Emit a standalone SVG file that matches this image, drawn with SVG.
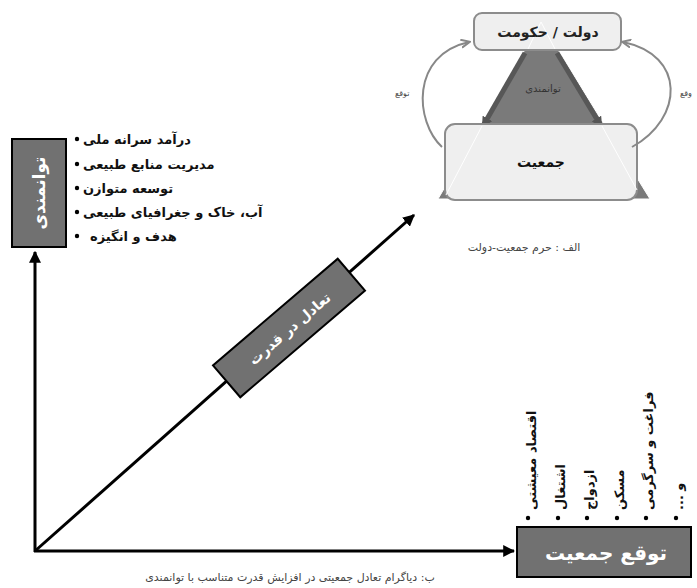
<svg xmlns="http://www.w3.org/2000/svg" width="697" height="588" viewBox="0 0 697 588">
<style>
.fa{font-family:"DejaVu Sans","Noto Sans",sans-serif;direction:rtl}
.axis{stroke:#000;stroke-width:3;fill:none}
.dbox{fill:#717171;stroke:#000;stroke-width:2}
.wt{fill:#fff;font-weight:bold}
.item{fill:#111;font-weight:bold;font-size:13px}
.lbox{fill:#efefef;stroke:#8c8c8c;stroke-width:2}
.cap{fill:#444;font-size:11px}
.bul{fill:#000}
</style>
<defs>
<marker id="ah" viewBox="0 0 10 10" refX="9" refY="5" markerWidth="4" markerHeight="4" orient="auto" markerUnits="strokeWidth"><path d="M0,0L10,5L0,10z" fill="#000"/></marker>
<marker id="gh" viewBox="0 0 10 10" refX="8" refY="5" markerWidth="5" markerHeight="5" orient="auto" markerUnits="strokeWidth"><path d="M0,1L9,5L0,9" fill="none" stroke="#888" stroke-width="2"/></marker>
<marker id="dh" viewBox="0 0 10 10" refX="8" refY="5" markerWidth="2.2" markerHeight="2.2" orient="auto" markerUnits="strokeWidth"><path d="M0,0L10,5L0,10z" fill="#555"/></marker>
</defs>

<!-- top-right diagram -->
<g id="triangle">
<polygon points="541,22 438,199 650,199" fill="#7a7a7a" stroke="#fff" stroke-width="1"/>
<line x1="525" y1="53" x2="483" y2="126" stroke="#575757" stroke-width="5" marker-end="url(#dh)"/>
<line x1="557" y1="53" x2="601" y2="126" stroke="#575757" stroke-width="5" marker-end="url(#dh)"/>
<text class="fa" x="543" y="92" text-anchor="middle" font-size="10" fill="#333">توانمندی</text>
</g>
<g id="dolat">
<rect class="lbox" x="474" y="13" width="147" height="37" rx="8" fill="#f3f3f3"/>
<line x1="541" y1="22" x2="528" y2="49" stroke="#fff" stroke-width="1"/>
<line x1="541" y1="22" x2="555" y2="49" stroke="#fff" stroke-width="1"/>
<text class="fa" x="548" y="37" text-anchor="middle" font-size="14" font-weight="bold" fill="#222">دولت / حکومت</text>
</g>
<g id="jamiat">
<rect class="lbox" x="445" y="124" width="192" height="76" rx="10"/>
<line x1="482" y1="126" x2="446" y2="195" stroke="#fff" stroke-width="1"/>
<line x1="602" y1="126" x2="637" y2="190" stroke="#fff" stroke-width="1"/>
<text class="fa" x="541" y="167" text-anchor="middle" font-size="14" font-weight="bold" fill="#111">جمعیت</text>
</g>
<g id="top-connectors">
<path d="M442,147 C415,122 410,55 469,42" fill="none" stroke="#888" stroke-width="2" marker-end="url(#gh)"/>
<path d="M632,147 C684,118 686,55 623,42" fill="none" stroke="#888" stroke-width="2" marker-end="url(#gh)"/>
<text class="fa" x="395" y="96" text-anchor="end" font-size="8" fill="#444">توقع</text>
<text class="fa" x="680" y="96" text-anchor="end" font-size="8" fill="#444">وقع</text>
</g>
<text class="fa cap" x="524" y="251" text-anchor="middle">الف : حرم جمعیت-دولت</text>

<!-- main diagram connectors -->
<g id="connectors">
<line class="axis" x1="35" y1="552" x2="35" y2="252" marker-end="url(#ah)"/>
<line class="axis" x1="34" y1="551" x2="514" y2="551" marker-end="url(#ah)"/>
<line class="axis" x1="35" y1="551" x2="414" y2="215" marker-end="url(#ah)"/>
</g>

<g id="tavanmandi">
<rect class="dbox" x="12" y="139" width="54" height="108"/>
<text class="fa wt" transform="translate(45,193) rotate(-90)" text-anchor="middle" font-size="17">توانمندی</text>
</g>
<g id="items">
<circle class="bul" cx="77" cy="139" r="2.2"/>
<text class="fa item" x="83" y="144" text-anchor="end">درآمد سرانه ملی</text>
<circle class="bul" cx="77" cy="164" r="2.2"/>
<text class="fa item" x="83" y="169" text-anchor="end">مدیریت منابع طبیعی</text>
<circle class="bul" cx="77" cy="188" r="2.2"/>
<text class="fa item" x="83" y="193" text-anchor="end">توسعه متوازن</text>
<circle class="bul" cx="77" cy="212" r="2.2"/>
<text class="fa item" x="83" y="217" text-anchor="end">آب، خاک و جغرافیای طبیعی</text>
<circle class="bul" cx="77" cy="236" r="2.2"/>
<text class="fa item" x="90" y="241" text-anchor="end">هدف و انگیزه</text>
</g>

<g id="taadol">
<g transform="translate(289,328) rotate(-40.5)">
<rect class="dbox" x="-82" y="-21" width="164" height="42"/>
<text class="fa wt" x="0" y="6" text-anchor="middle" font-size="14">تعادل در قدرت</text>
</g>
</g>

<g id="tavaghoe">
<rect class="dbox" x="517" y="527" width="174" height="50"/>
<text class="fa wt" x="606" y="560" text-anchor="middle" font-size="20">توقع جمعیت</text>
</g>
<g id="vitems">
<circle class="bul" cx="528" cy="518" r="2.2"/>
<text class="fa item" transform="translate(536,510) rotate(-90)" text-anchor="end" font-size="12.5">اقتصاد معیشتی</text>
<circle class="bul" cx="558" cy="518" r="2.2"/>
<text class="fa item" transform="translate(565,510) rotate(-90)" text-anchor="end">اشتغال</text>
<circle class="bul" cx="587" cy="518" r="2.2"/>
<text class="fa item" transform="translate(594,510) rotate(-90)" text-anchor="end">ازدواج</text>
<circle class="bul" cx="617" cy="518" r="2.2"/>
<text class="fa item" transform="translate(624,510) rotate(-90)" text-anchor="end">مسکن</text>
<circle class="bul" cx="646" cy="518" r="2.2"/>
<text class="fa item" transform="translate(653,510) rotate(-90)" text-anchor="end">فراغت و سرگرمی</text>
<circle class="bul" cx="676" cy="518" r="2.2"/>
<text class="fa item" transform="translate(683,510) rotate(-90)" text-anchor="end">و ...</text>
</g>

<text class="fa cap" x="290" y="581" text-anchor="middle">ب: دیاگرام تعادل جمعیتی در افزایش قدرت متناسب با توانمندی</text>
</svg>
